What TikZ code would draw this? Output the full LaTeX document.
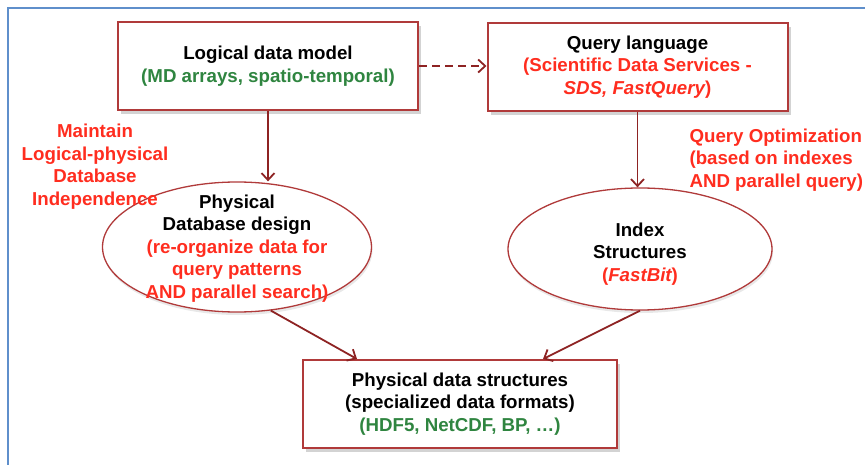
\documentclass[tikz,border=0pt]{standalone}
\usepackage{fontspec}
\setmainfont{Liberation Sans}
\usetikzlibrary{positioning,arrows.meta,shapes.geometric,shadows}

\definecolor{boxred}{HTML}{B03A3A}
\definecolor{arrred}{HTML}{8E2323}
\definecolor{txtred}{HTML}{FF2D1F}
\definecolor{txtgreen}{HTML}{2F8540}
\definecolor{frameblue}{HTML}{5F8FCB}

\tikzset{
  databox/.style={draw=boxred, line width=2pt, fill=white, align=center,
    minimum width=300pt, minimum height=88pt,
    drop shadow={shadow xshift=3pt, shadow yshift=-4pt, opacity=.35}},
  dataell/.style={ellipse, draw=boxred, line width=1.3pt, fill=white, inner sep=0pt,
    drop shadow={shadow xshift=1pt, shadow yshift=-3pt, opacity=.18}},
  flow/.style={draw=arrred, line width=1.8pt, -{Straight Barb[length=7pt,width=13pt]}},
  note/.style={text=txtred, align=center}
}

\begin{document}
\begin{tikzpicture}[x=1pt, y=-1pt, font=\fontsize{18.7}{22.5}\selectfont\bfseries]
  \useasboundingbox (0,0) rectangle (865,465);
  % Slide frame
  \draw[frameblue, line width=2.5pt] (8,465) -- (8,8) -- (865,8);
  % Top boxes
  \node[databox] (logic) at (268,66)
    {Logical data model\\{\color{txtgreen}(MD arrays, spatio-temporal)}};
  \node[databox] (query) at (637.5,67)
    {Query language\\{\color{txtred}(Scientific Data Services -}\\
     {\color{txtred}\itshape SDS, FastQuery\upshape)}};
  % Ellipses
  \node[dataell, minimum width=269pt, minimum height=130pt] (pdb) at (237,247) {};
  \node[align=center] (pdbtext) at (237,248.5)
    {Physical\\Database design\\{\color{txtred}(re-organize data for}\\
     {\color{txtred}query patterns}\\{\color{txtred}AND parallel search)}};
  \node[dataell, minimum width=264pt, minimum height=122pt] (idx) at (640,249) {};
  \node[align=center] (idxtext) at (640,254)
    {Index\\Structures\\{\color{txtred}(\itshape FastBit\upshape)}};
  % Bottom box
  \node[databox, minimum width=314pt] (phys) at (460,404)
    {Physical data structures\\(specialized data formats)\\
     {\color{txtgreen}(HDF5, NetCDF, BP, \ldots)}};
  % Side notes
  \node[note] (indep) at (95,166.5)
    {Maintain\\Logical-physical\\Database\\Independence};
  \node[note, anchor=west, align=left] (optim) at (686,160)
    {Query Optimization\\(based on indexes\\AND parallel query)};
  % Connectors
  \draw[flow, dashed, dash pattern=on 8pt off 5pt] (logic.east) -- (logic.east -| query.west);
  \draw[flow] (logic.south) -- (logic.south |- pdb.north);
  \draw[flow] (query.south) -- (query.south |- idx.north);
  \draw[flow] (pdb.-62) -- ([xshift=-103pt]phys.north);
  \draw[flow] (idx.south) -- ([xshift=83pt]phys.north);
\end{tikzpicture}
\end{document}
